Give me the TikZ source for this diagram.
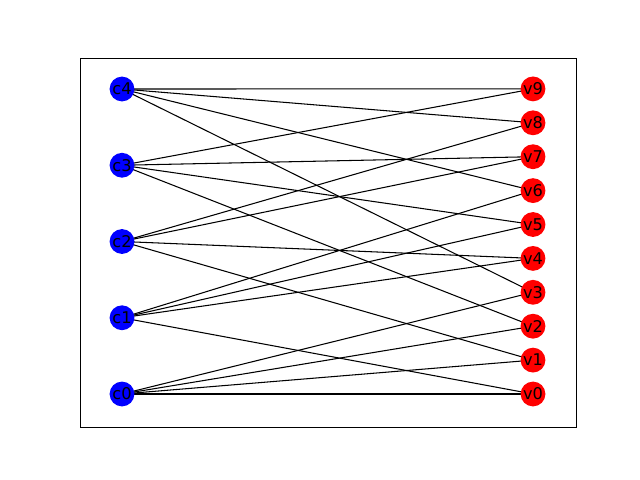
\documentclass[tikz,border=0pt]{standalone}
\usepackage{fontspec}
\setmainfont{DejaVu Sans}
\usetikzlibrary{backgrounds}
\begin{document}
\begin{tikzpicture}[x=0.025cm,y=-0.025cm,
  cnode/.style={circle,fill=blue,inner sep=0pt,minimum size=0.62cm,font=\fontsize{11.5}{12}\selectfont},
  vnode/.style={circle,fill=red,inner sep=0pt,minimum size=0.62cm,font=\fontsize{11.5}{12}\selectfont},
  edge/.style={black,line width=0.75pt}]
  \useasboundingbox (0,0) rectangle (640,480);
  \draw[black,line width=0.6pt] (80,58) rectangle (576,427);

% bipartite graph, c nodes left and v nodes right
  \foreach \i in {0,...,4}
    \node[cnode] (c\i) at (122,{394-76.25*\i}) {c\i};
  \foreach \j in {0,...,9}
    \node[vnode] (v\j) at (533,{394-33.9*\j}) {v\j};

  \begin{scope}[on background layer]
  \foreach \a/\b in {c4/v9,c4/v8,c4/v6,c4/v3,
                     c3/v9,c3/v7,c3/v5,c3/v2,
                     c2/v8,c2/v7,c2/v4,c2/v1,
                     c1/v6,c1/v5,c1/v4,c1/v0,
                     c0/v3,c0/v2,c0/v1,c0/v0}
    \draw[edge] (\a.center) -- (\b.center);
  \end{scope}
\end{tikzpicture}
\end{document}
